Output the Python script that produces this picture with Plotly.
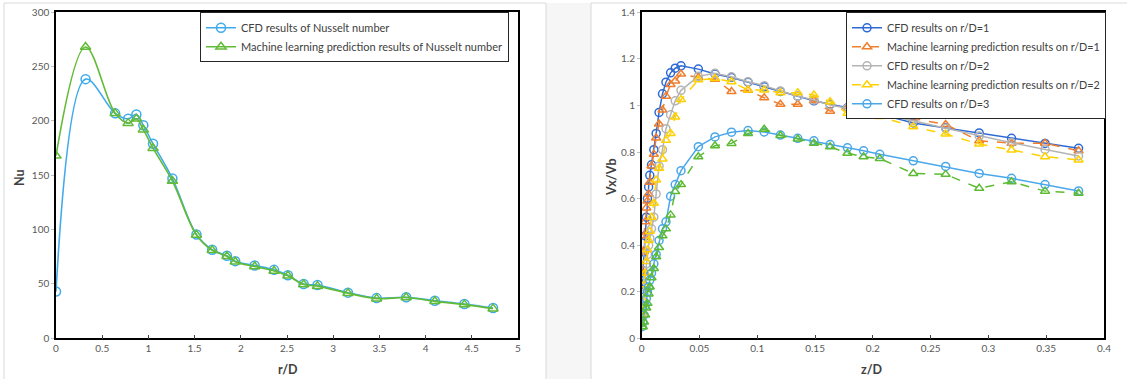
import plotly.graph_objects as go

W, H = 1127, 379

# ---------------- Left chart data (Nusselt number) ----------------
r_D = [0, 0.32, 0.64, 0.78, 0.87, 0.945, 1.05, 1.26, 1.52, 1.69, 1.85, 1.94,
       2.15, 2.36, 2.51, 2.68, 2.83, 3.16, 3.47, 3.79, 4.10, 4.42, 4.73]
nu_cfd = [43, 238.5, 207, 202, 206, 196, 179, 147, 95.5, 81.5, 76, 71,
          67, 63, 58, 50, 49, 42, 37, 37.7, 34.6, 31.6, 27.9]
nu_ml = [168, 268, 207, 198, 202, 192, 175, 144.7, 95, 81, 75.5, 70.5,
         66, 62, 57.5, 49.5, 48, 41.5, 36.5, 37.5, 34, 31, 27.3]

# ---------------- Right chart data (velocity profiles) ----------------
z_D = [0.0003, 0.001, 0.002, 0.003, 0.004, 0.005, 0.006, 0.007, 0.0085, 0.0105,
       0.0125, 0.015, 0.018, 0.021, 0.025, 0.029, 0.034, 0.049, 0.0634, 0.0777,
       0.092, 0.106, 0.12, 0.135, 0.149, 0.163, 0.178, 0.192, 0.206, 0.235,
       0.263, 0.292, 0.32, 0.349, 0.378]
cfd_r1 = [0.21, 0.29, 0.37, 0.44, 0.52, 0.60, 0.65, 0.70, 0.745, 0.81,
          0.88, 0.97, 1.05, 1.10, 1.14, 1.16, 1.17, 1.156, 1.135, 1.12,
          1.10, 1.08, 1.06, 1.04, 1.02, 1.005, 0.99, 0.975, 0.963, 0.925,
          0.904, 0.882, 0.859, 0.837, 0.816]
ml_r1 = [0.28, 0.37, 0.44, 0.50, 0.56, 0.59, 0.62, 0.67, 0.74, 0.79,
         0.86, 0.92, 0.98, 1.04, 1.09, 1.105, 1.135, 1.12, 1.112, 1.06,
         1.065, 1.033, 1.005, 1.005, 1.02, 0.975, 0.994, 0.96, 0.955, 0.944,
         0.918, 0.848, 0.838, 0.838, 0.805]
cfd_r2 = [0.10, 0.16, 0.22, 0.27, 0.32, 0.36, 0.40, 0.43, 0.47, 0.52,
          0.62, 0.74, 0.81, 0.90, 0.96, 1.02, 1.065, 1.125, 1.138, 1.123,
          1.102, 1.085, 1.062, 1.04, 1.023, 1.002, 0.988, 0.975, 0.963, 0.934,
          0.902, 0.869, 0.840, 0.811, 0.783]
ml_r2 = [0.10, 0.16, 0.23, 0.28, 0.33, 0.38, 0.42, 0.46, 0.52, 0.58,
         0.68, 0.73, 0.77, 0.85, 0.88, 0.95, 1.025, 1.11, 1.116, 1.102,
         1.066, 1.066, 1.055, 1.055, 1.045, 1.016, 0.966, 0.98, 0.952, 0.909,
         0.877, 0.834, 0.809, 0.78, 0.766]
cfd_r3 = [0.05, 0.07, 0.10, 0.14, 0.17, 0.20, 0.22, 0.25, 0.28, 0.32,
          0.36, 0.42, 0.47, 0.50, 0.61, 0.66, 0.72, 0.823, 0.865, 0.885,
          0.892, 0.886, 0.873, 0.859, 0.848, 0.832, 0.818, 0.805, 0.79, 0.762,
          0.738, 0.708, 0.687, 0.66, 0.633]
ml_r3 = [0.05, 0.05, 0.07, 0.10, 0.13, 0.15, 0.19, 0.22, 0.26, 0.30,
         0.35, 0.39, 0.44, 0.47, 0.53, 0.63, 0.66, 0.78, 0.827, 0.837,
         0.88, 0.898, 0.871, 0.856, 0.838, 0.823, 0.795, 0.78, 0.772, 0.708,
         0.704, 0.644, 0.672, 0.632, 0.623]

FONT = "Lato, Carlito, Calibri, 'Open Sans', sans-serif"
TXT = "#404040"
TICK = "#595959"

fig = go.Figure()

# Left chart traces
fig.add_trace(go.Scatter(
    x=r_D, y=nu_cfd, name="CFD results of Nusselt number",
    mode="lines+markers", line=dict(color="#3FAAEC", width=1.6, shape="spline", smoothing=1.0),
    marker=dict(symbol="circle-open", size=9, color="#3FAAEC", line=dict(width=1.5)),
    xaxis="x", yaxis="y", legend="legend"))
fig.add_trace(go.Scatter(
    x=r_D, y=nu_ml, name="Machine learning prediction results of Nusselt number",
    mode="lines+markers", line=dict(color="#62BB37", width=1.6, shape="spline", smoothing=1.0),
    marker=dict(symbol="triangle-up-open", size=9, color="#62BB37", line=dict(width=1.5)),
    xaxis="x", yaxis="y", legend="legend"))

# Right chart traces
right_series = [
    ("CFD results on r/D=1", cfd_r1, "#2E6AD6", "solid", "circle-open", True),
    ("Machine learning prediction results on r/D=1", ml_r1, "#F07E2C", "dash", "triangle-up-open", True),
    ("CFD results on r/D=2", cfd_r2, "#B4B4B4", "solid", "circle-open", True),
    ("Machine learning prediction results on r/D=2", ml_r2, "#FFD100", "dash", "triangle-up-open", True),
    ("CFD results on r/D=3", cfd_r3, "#4AA8EA", "solid", "circle-open", True),
    ("Machine learning prediction results on r/D=3", ml_r3, "#5DBB33", "dash", "triangle-up-open", False),
]
for name, vals, col, dash, sym, show in right_series:
    fig.add_trace(go.Scatter(
        x=z_D, y=vals, name=name, mode="lines+markers",
        line=dict(color=col, width=1.5, dash=dash),
        marker=dict(symbol=sym, size=8, color=col, line=dict(width=1.5)),
        xaxis="x2", yaxis="y2", legend="legend2", showlegend=show))

def px_x(p):
    return p / W

def px_y(p):
    return 1 - p / H

x1d = [px_x(56), px_x(518)]
x2d = [px_x(641.7), px_x(1104)]
yd = [px_y(338.3), px_y(12.3)]

axis_common = dict(showgrid=False, zeroline=False, showline=True, linecolor="black",
                   linewidth=1.5, mirror=True, automargin=False,
                   tickfont=dict(family=FONT, size=10, color=TICK))

fig.update_layout(
    width=W, height=H,
    margin=dict(l=0, r=0, t=0, b=0, pad=0, autoexpand=False),
    paper_bgcolor="white", plot_bgcolor="white",
    font=dict(family=FONT, color=TXT),
    xaxis=dict(domain=x1d, range=[0, 5], dtick=0.5, tick0=0, anchor="y",
               ticks="inside", ticklen=4, tickcolor="#404040", **axis_common),
    yaxis=dict(domain=yd, range=[0, 300], dtick=50, tick0=0, anchor="x",
               ticks="outside", ticklen=3, tickcolor="#BFBFBF", **axis_common),
    xaxis2=dict(domain=x2d, range=[0, 0.4], dtick=0.05, tick0=0, anchor="y2",
                ticks="inside", ticklen=4, tickcolor="#404040", **axis_common),
    yaxis2=dict(domain=yd, range=[0, 1.4], dtick=0.2, tick0=0, anchor="x2",
                ticks="outside", ticklen=3, tickcolor="#BFBFBF", **axis_common),
    legend=dict(x=px_x(200), y=px_y(12.3), xanchor="left", yanchor="top",
                bgcolor="white", bordercolor="#262626", borderwidth=1,
                font=dict(family=FONT, size=11, color=TXT), tracegroupgap=0),
    legend2=dict(x=px_x(846), y=px_y(12.3), xanchor="left", yanchor="top",
                 bgcolor="white", bordercolor="#262626", borderwidth=1,
                 font=dict(family=FONT, size=10.8, color=TXT), tracegroupgap=0),
    showlegend=True,
)

# Axis titles
title_font = dict(family=FONT, size=12.5, color=TXT)
fig.add_annotation(text="<b>Nu</b>", x=px_x(20), y=px_y(178), xref="paper", yref="paper",
                   xanchor="center", yanchor="middle",
                   textangle=-90, showarrow=False, font=title_font)
fig.add_annotation(text="<b>r/D</b>", x=px_x(288), y=px_y(369), xref="paper", yref="paper",
                   xanchor="center", yanchor="middle",
                   showarrow=False, font=title_font)
fig.add_annotation(text="<b>Vx/Vb</b>", x=px_x(611), y=px_y(177), xref="paper", yref="paper",
                   xanchor="center", yanchor="middle",
                   textangle=-90, showarrow=False, font=title_font)
fig.add_annotation(text="<b>z/D</b>", x=px_x(872), y=px_y(369), xref="paper", yref="paper",
                   xanchor="center", yanchor="middle",
                   showarrow=False, font=title_font)

# Chart-area frames (decorative, like the Excel chart borders)
fig.add_shape(type="rect", xref="paper", yref="paper", layer="below",
              x0=px_x(546), x1=px_x(591), y0=0, y1=px_y(3),
              fillcolor="#F6F6F6", line=dict(width=0))
fig.add_shape(type="rect", xref="paper", yref="paper", layer="below",
              x0=px_x(4), x1=px_x(546), y0=-0.01, y1=px_y(3),
              fillcolor="rgba(0,0,0,0)", line=dict(color="#D9D9D9", width=1))
fig.add_shape(type="rect", xref="paper", yref="paper", layer="below",
              x0=px_x(591), x1=1.01, y0=-0.01, y1=px_y(3),
              fillcolor="rgba(0,0,0,0)", line=dict(color="#D9D9D9", width=1))

# Remove the browser's default page margin so the figure sits at (0, 0)
fig.write_html(
    "out.html",
    config={"displayModeBar": False},
    post_script="document.body.style.margin='0';document.body.style.overflow='hidden';",
)
